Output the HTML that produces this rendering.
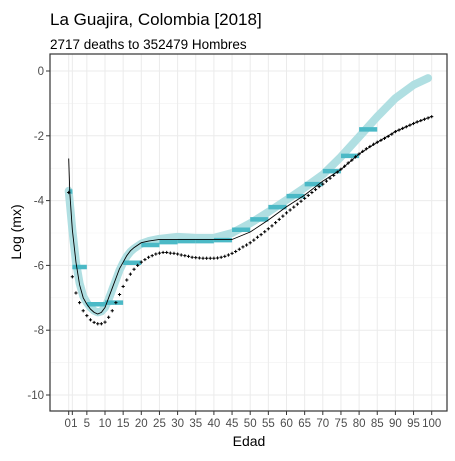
<!DOCTYPE html>
<html><head><meta charset="utf-8"><style>
body{margin:0;background:#fff;font-family:"Liberation Sans",sans-serif}
svg text{font-family:"Liberation Sans",sans-serif}
</style></head><body>
<svg id="chart" width="455" height="456" viewBox="0 0 455 456" xmlns="http://www.w3.org/2000/svg">
<rect x="0" y="0" width="455" height="456" fill="#fff"/>
<text x="50" y="25" font-size="17" fill="#000">La Guajira, Colombia [2018]</text>
<text x="50" y="49" font-size="13.5" fill="#000">2717 deaths to 352479 Hombres</text>
<g id="grid"></g>
<g id="marks"></g>
<rect x="50" y="54" width="397" height="357" fill="none" stroke="#333" stroke-width="1.2"/>
<g id="axes"></g>
<text x="249" y="446" font-size="14" text-anchor="middle" fill="#000">Edad</text>
<text transform="translate(21,232) rotate(-90)" font-size="14" text-anchor="middle" fill="#000">Log (mx)</text>
</svg>
<script>
const xTicks=[0,1,5,10,15,20,25,30,35,40,45,50,55,60,65,70,75,80,85,90,95,100];
const yTicks=[0,-2,-4,-6,-8,-10];
const barStarts=[0,1,5,10,15,20,25,30,35,40,45,50,55,60,65,70,75,80];
const barEnds=[1,5,10,15,20,25,30,35,40,45,50,55,60,65,70,75,80,85];
const barValues=[-3.72,-6.05,-7.2,-7.15,-5.92,-5.37,-5.28,-5.25,-5.25,-5.22,-4.9,-4.58,-4.2,-3.86,-3.49,-3.09,-2.62,-1.8];
const smoothAges=[0,0.5,1,2,3,4,5,6,7,8,9,10,11,12,13,14,15,16,17,18,20,22,25,30,35,40,45,50,55,60,65,70,75,80,85,90,95,99];
const smoothValues=[-3.7,-4.3,-4.9,-5.9,-6.55,-6.95,-7.15,-7.3,-7.4,-7.45,-7.42,-7.3,-7.05,-6.75,-6.45,-6.15,-5.92,-5.72,-5.58,-5.48,-5.33,-5.25,-5.18,-5.12,-5.15,-5.15,-5.0,-4.7,-4.35,-3.98,-3.6,-3.2,-2.65,-2.03,-1.41,-0.84,-0.43,-0.22];
const lineAges=[0,0.3,1,2,3,4,5,6,7,8,9,10,11,12,13,14,15,16,17,18,20,22,25,30,35,40,45,50,55,60,65,70,75,80,85,90,95,100];
const lineValues=[-2.7,-3.75,-4.9,-5.9,-6.6,-7.0,-7.2,-7.35,-7.45,-7.5,-7.45,-7.3,-7.0,-6.7,-6.4,-6.1,-5.9,-5.7,-5.55,-5.45,-5.3,-5.25,-5.2,-5.2,-5.2,-5.2,-5.2,-4.97,-4.6,-4.19,-3.83,-3.4,-3.04,-2.56,-2.2,-1.87,-1.62,-1.4];
const dotValues=[-3.75,-6.35,-6.85,-7.15,-7.4,-7.55,-7.68,-7.76,-7.8,-7.8,-7.75,-7.6,-7.4,-7.15,-6.9,-6.65,-6.45,-6.27,-6.12,-6.0,-5.9,-5.82,-5.75,-5.7,-5.65,-5.62,-5.6,-5.6,-5.62,-5.63,-5.65,-5.68,-5.7,-5.72,-5.75,-5.76,-5.77,-5.78,-5.78,-5.78,-5.78,-5.77,-5.75,-5.72,-5.68,-5.63,-5.57,-5.5,-5.43,-5.37,-5.3,-5.22,-5.13,-5.05,-4.96,-4.87,-4.78,-4.68,-4.58,-4.48,-4.38,-4.29,-4.2,-4.11,-4.02,-3.93,-3.84,-3.75,-3.66,-3.57,-3.49,-3.4,-3.31,-3.22,-3.12,-3.03,-2.94,-2.84,-2.75,-2.65,-2.56,-2.48,-2.4,-2.33,-2.26,-2.2,-2.14,-2.08,-2.02,-1.95,-1.87,-1.82,-1.77,-1.72,-1.67,-1.62,-1.57,-1.53,-1.49,-1.45,-1.41];
const NS="http://www.w3.org/2000/svg";
const X=a=>68.7+a*3.63;
const Y=v=>71-v*32.4;
function el(t,attrs,parent){const e=document.createElementNS(NS,t);for(const k in attrs)e.setAttribute(k,attrs[k]);parent.appendChild(e);return e;}
const grid=document.getElementById('grid'),marks=document.getElementById('marks'),axes=document.getElementById('axes');
el('rect',{x:50,y:54,width:397,height:357,fill:'#fff'},grid);
for(let v=-9;v<=-1;v+=2){const g=el('line',{x1:50,x2:447,y1:Y(v),y2:Y(v),stroke:'#f2f2f2','stroke-width':0.6},grid);}
xTicks.forEach(t=>{const g=el('line',{x1:X(t),x2:X(t),y1:54,y2:411,stroke:'#ebebeb','stroke-width':1},grid);


const tk=el('line',{x1:X(t),x2:X(t),y1:411,y2:415,stroke:'#333','stroke-width':1},axes);
const lb=el('text',{x:X(t)+(t===0?-1:t===1?2:0),y:427,'font-size':11.5,'text-anchor':'middle',fill:'#4d4d4d'},axes);lb.textContent=t;

});
yTicks.forEach(t=>{const g=el('line',{x1:50,x2:447,y1:Y(t),y2:Y(t),stroke:'#ebebeb','stroke-width':1},grid);


el('line',{x1:46,x2:50,y1:Y(t),y2:Y(t),stroke:'#333','stroke-width':1},axes);
const lb=el('text',{x:44,y:Y(t)+4,'font-size':11.5,'text-anchor':'end',fill:'#4d4d4d'},axes);lb.textContent=t;

});
const sm=el('polyline',{points:smoothAges.map((a,i)=>X(a)+','+Y(smoothValues[i])).join(' '),fill:'none',stroke:'#b0dfe2','stroke-width':8,'stroke-linejoin':'round','stroke-linecap':'round'},marks);


barStarts.forEach((s,i)=>{const b=el('line',{x1:X(s),x2:X(barEnds[i]),y1:Y(barValues[i]),y2:Y(barValues[i]),stroke:'#4bb9c6','stroke-width':4.5},marks);

});
const ln=el('polyline',{points:lineAges.map((a,i)=>X(a)+','+Y(lineValues[i])).join(' '),fill:'none',stroke:'#000','stroke-width':0.9},marks);


dotValues.forEach((v,i)=>{const x=X(i),y=Y(v);const p=el('path',{d:`M${x-1.6},${y}H${x+1.6}M${x},${y-1.6}V${y+1.6}`,stroke:'#000','stroke-width':1},marks);

});
</script>
</body></html>
